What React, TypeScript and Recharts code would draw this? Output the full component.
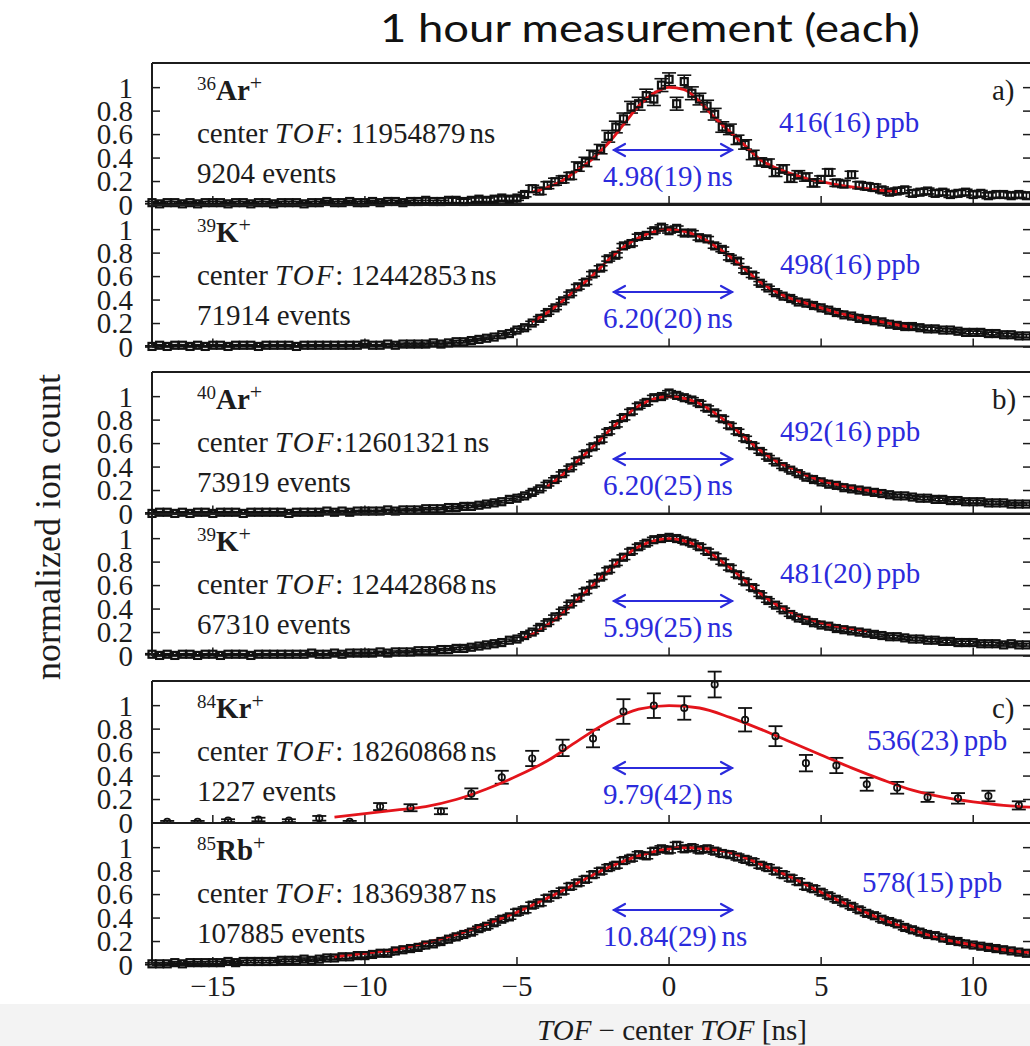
import { ComposedChart, Scatter, Line, XAxis, YAxis, ErrorBar, ReferenceLine, LabelList } from "recharts";

const INK = "#1c1c1c";
const RED = "#e3141b";
const BLUE = "#2b2bdc";
const SERIF = "'Liberation Serif', 'Times New Roman', serif";

const X_TICKS = [-15, -10, -5, 0, 5, 10];
const Y_TICKS = [0, 0.2, 0.4, 0.6, 0.8, 1];
const X_DOMAIN: [number, number] = [-17, 11.9];
const Y_DOMAIN: [number, number] = [0, 1.21];

// bin centres [ns] of the fine-binned spectra
const TOF_BINS = [
  -17, -16.75, -16.5, -16.25, -16, -15.75, -15.5, -15.25,
  -15, -14.75, -14.5, -14.25, -14, -13.75, -13.5, -13.25,
  -13, -12.75, -12.5, -12.25, -12, -11.75, -11.5, -11.25,
  -11, -10.75, -10.5, -10.25, -10, -9.75, -9.5, -9.25,
  -9, -8.75, -8.5, -8.25, -8, -7.75, -7.5, -7.25,
  -7, -6.75, -6.5, -6.25, -6, -5.75, -5.5, -5.25,
  -5, -4.75, -4.5, -4.25, -4, -3.75, -3.5, -3.25,
  -3, -2.75, -2.5, -2.25, -2, -1.75, -1.5, -1.25,
  -1, -0.75, -0.5, -0.25, 0, 0.25, 0.5, 0.75,
  1, 1.25, 1.5, 1.75, 2, 2.25, 2.5, 2.75,
  3, 3.25, 3.5, 3.75, 4, 4.25, 4.5, 4.75,
  5, 5.25, 5.5, 5.75, 6, 6.25, 6.5, 6.75,
  7, 7.25, 7.5, 7.75, 8, 8.25, 8.5, 8.75,
  9, 9.25, 9.5, 9.75, 10, 10.25, 10.5, 10.75,
  11, 11.25, 11.5, 11.75,
];

// 36Ar+
const AR36_COUNTS = [
  0.01, 0.0, 0.01, 0.01, 0.0, 0.01, 0.0, 0.01,
  0.01, 0.01, 0.0, 0.01, 0.01, 0.0, 0.01, 0.01,
  0.0, 0.01, 0.01, 0.01, 0.0, 0.01, 0.01, 0.02,
  0.01, 0.01, 0.02, 0.01, 0.01, 0.02, 0.01, 0.02,
  0.02, 0.01, 0.02, 0.02, 0.03, 0.02, 0.02, 0.03,
  0.03, 0.02, 0.03, 0.04, 0.03, 0.04, 0.05, 0.04,
  0.05, 0.08, 0.13, 0.11, 0.16, 0.19, 0.21, 0.24,
  0.32, 0.36, 0.42, 0.47, 0.58, 0.66, 0.73, 0.83,
  0.86, 0.93, 0.9, 1.02, 1.07, 0.86, 1.05, 0.95,
  0.9, 0.84, 0.77, 0.66, 0.64, 0.55, 0.51, 0.42,
  0.36, 0.35, 0.27, 0.3, 0.22, 0.25, 0.23, 0.18,
  0.21, 0.27, 0.18, 0.17, 0.25, 0.16, 0.15, 0.14,
  0.12, 0.1, 0.11, 0.12, 0.09, 0.1, 0.11, 0.09,
  0.1, 0.08, 0.09, 0.1, 0.08, 0.09, 0.07, 0.08,
  0.08, 0.07, 0.08, 0.07,
];
const AR36_ERR = [
  0.01, 0.01, 0.01, 0.01, 0.01, 0.01, 0.01, 0.01,
  0.01, 0.01, 0.01, 0.01, 0.01, 0.01, 0.01, 0.01,
  0.01, 0.01, 0.01, 0.01, 0.01, 0.01, 0.01, 0.01,
  0.01, 0.01, 0.01, 0.01, 0.01, 0.01, 0.01, 0.01,
  0.01, 0.01, 0.01, 0.01, 0.02, 0.01, 0.01, 0.02,
  0.02, 0.02, 0.02, 0.02, 0.02, 0.02, 0.02, 0.02,
  0.02, 0.02, 0.03, 0.03, 0.03, 0.03, 0.03, 0.03,
  0.04, 0.04, 0.04, 0.04, 0.05, 0.05, 0.05, 0.05,
  0.055, 0.055, 0.055, 0.055, 0.055, 0.055, 0.055, 0.055,
  0.05, 0.05, 0.05, 0.045, 0.045, 0.04, 0.04, 0.04,
  0.035, 0.035, 0.035, 0.035, 0.035, 0.035, 0.035, 0.035,
  0.03, 0.03, 0.03, 0.03, 0.03, 0.03, 0.03, 0.03,
  0.025, 0.025, 0.025, 0.025, 0.025, 0.025, 0.025, 0.025,
  0.025, 0.025, 0.025, 0.025, 0.025, 0.025, 0.025, 0.025,
  0.025, 0.025, 0.025, 0.025,
];
const AR36_FIT_NS = [-4.5, -4, -3.5, -3, -2.5, -2, -1.5, -1, -0.5, 0, 0.5, 1, 1.5, 2, 2.5, 3, 3.5, 4, 4.5, 5, 5.5, 6, 6.5, 7, 7.5];
const AR36_FIT = [0.1, 0.14, 0.2, 0.29, 0.39, 0.52, 0.68, 0.84, 0.95, 1.0, 0.98, 0.88, 0.74, 0.62, 0.5, 0.38, 0.31, 0.26, 0.22, 0.19, 0.165, 0.145, 0.13, 0.115, 0.105];

// 39K+ (first run)
const K39A_COUNTS = [
  0.0, 0.01, 0.0, 0.01, 0.01, 0.0, 0.01, 0.0,
  0.01, 0.01, 0.0, 0.01, 0.01, 0.01, 0.0, 0.01,
  0.01, 0.01, 0.01, 0.0, 0.01, 0.01, 0.01, 0.01,
  0.01, 0.01, 0.01, 0.01, 0.02, 0.01, 0.01, 0.02,
  0.01, 0.02, 0.02, 0.02, 0.02, 0.03, 0.02, 0.03,
  0.04, 0.04, 0.05, 0.06, 0.07, 0.08, 0.1, 0.11,
  0.14, 0.16, 0.2, 0.24, 0.29, 0.33, 0.39, 0.45,
  0.51, 0.55, 0.62, 0.67, 0.75, 0.78, 0.86, 0.88,
  0.94, 0.95, 0.99, 1.02, 0.99, 1.01, 0.97, 0.97,
  0.93, 0.92, 0.86, 0.83, 0.76, 0.73, 0.65, 0.61,
  0.54, 0.5, 0.46, 0.43, 0.41, 0.38, 0.37, 0.35,
  0.33, 0.31, 0.29, 0.27, 0.26, 0.24, 0.23, 0.22,
  0.21, 0.19, 0.18, 0.17, 0.17, 0.16, 0.15, 0.15,
  0.14, 0.14, 0.13, 0.12, 0.12, 0.12, 0.11, 0.11,
  0.1, 0.1, 0.09, 0.09,
];
const K39A_ERR = [
  0.005, 0.005, 0.005, 0.005, 0.005, 0.005, 0.005, 0.005,
  0.005, 0.005, 0.005, 0.005, 0.005, 0.005, 0.005, 0.005,
  0.005, 0.005, 0.005, 0.005, 0.005, 0.005, 0.005, 0.005,
  0.005, 0.005, 0.005, 0.005, 0.005, 0.005, 0.005, 0.005,
  0.008, 0.008, 0.008, 0.008, 0.008, 0.008, 0.008, 0.008,
  0.01, 0.01, 0.01, 0.01, 0.01, 0.01, 0.01, 0.01,
  0.015, 0.015, 0.015, 0.015, 0.015, 0.015, 0.015, 0.015,
  0.02, 0.02, 0.02, 0.02, 0.02, 0.02, 0.02, 0.02,
  0.02, 0.02, 0.02, 0.02, 0.02, 0.02, 0.02, 0.02,
  0.02, 0.02, 0.02, 0.02, 0.02, 0.02, 0.02, 0.02,
  0.015, 0.015, 0.015, 0.015, 0.015, 0.015, 0.015, 0.015,
  0.015, 0.015, 0.015, 0.015, 0.015, 0.015, 0.015, 0.015,
  0.015, 0.015, 0.015, 0.015, 0.015, 0.015, 0.015, 0.015,
  0.012, 0.012, 0.012, 0.012, 0.012, 0.012, 0.012, 0.012,
  0.012, 0.012, 0.012, 0.012,
];
const K39A_FIT_NS = [-4.5, -4, -3.5, -3, -2.5, -2, -1.5, -1, -0.5, 0, 0.5, 1, 1.5, 2, 2.5, 3, 3.5, 4, 4.5, 5, 5.5, 6, 6.5, 7, 7.5, 8];
const K39A_FIT = [0.21, 0.29, 0.39, 0.5, 0.61, 0.74, 0.85, 0.93, 0.98, 1.0, 0.985, 0.94, 0.86, 0.77, 0.66, 0.55, 0.47, 0.41, 0.37, 0.33, 0.29, 0.26, 0.23, 0.21, 0.185, 0.165];

// 40Ar+
const AR40_COUNTS = [
  0.0, 0.01, 0.01, 0.0, 0.01, 0.0, 0.01, 0.01,
  0.0, 0.01, 0.01, 0.01, 0.0, 0.01, 0.01, 0.01,
  0.01, 0.01, 0.0, 0.01, 0.01, 0.01, 0.01, 0.02,
  0.01, 0.02, 0.01, 0.02, 0.02, 0.02, 0.02, 0.03,
  0.02, 0.03, 0.03, 0.03, 0.04, 0.04, 0.04, 0.05,
  0.05, 0.06, 0.06, 0.07, 0.08, 0.09, 0.1, 0.12,
  0.13, 0.15, 0.18, 0.21, 0.25, 0.29, 0.34, 0.39,
  0.45, 0.51, 0.57, 0.63, 0.7, 0.76, 0.82, 0.87,
  0.92, 0.95, 0.99, 1.0, 1.03, 1.01, 0.99, 0.97,
  0.94, 0.9, 0.86, 0.81, 0.75, 0.7, 0.64, 0.58,
  0.53, 0.48, 0.44, 0.4, 0.37, 0.34, 0.31, 0.29,
  0.27, 0.25, 0.24, 0.22, 0.21, 0.2, 0.19, 0.18,
  0.17, 0.16, 0.15, 0.15, 0.14, 0.13, 0.13, 0.12,
  0.12, 0.11, 0.11, 0.1, 0.1, 0.1, 0.09, 0.09,
  0.09, 0.08, 0.08, 0.08,
];
const AR40_ERR = [
  0.005, 0.005, 0.005, 0.005, 0.005, 0.005, 0.005, 0.005,
  0.005, 0.005, 0.005, 0.005, 0.005, 0.005, 0.005, 0.005,
  0.005, 0.005, 0.005, 0.005, 0.005, 0.005, 0.005, 0.005,
  0.006, 0.006, 0.006, 0.006, 0.006, 0.006, 0.006, 0.006,
  0.008, 0.008, 0.008, 0.008, 0.008, 0.008, 0.008, 0.008,
  0.01, 0.01, 0.01, 0.01, 0.01, 0.01, 0.01, 0.01,
  0.015, 0.015, 0.015, 0.015, 0.015, 0.015, 0.015, 0.015,
  0.02, 0.02, 0.02, 0.02, 0.02, 0.02, 0.02, 0.02,
  0.02, 0.02, 0.02, 0.02, 0.02, 0.02, 0.02, 0.02,
  0.02, 0.02, 0.02, 0.02, 0.02, 0.02, 0.02, 0.02,
  0.015, 0.015, 0.015, 0.015, 0.015, 0.015, 0.015, 0.015,
  0.015, 0.015, 0.015, 0.015, 0.015, 0.015, 0.015, 0.015,
  0.012, 0.012, 0.012, 0.012, 0.012, 0.012, 0.012, 0.012,
  0.012, 0.012, 0.012, 0.012, 0.012, 0.012, 0.012, 0.012,
  0.01, 0.01, 0.01, 0.01,
];
const AR40_FIT_NS = [-4, -3.5, -3, -2.5, -2, -1.5, -1, -0.5, 0, 0.5, 1, 1.5, 2, 2.5, 3, 3.5, 4, 4.5, 5, 5.5, 6, 6.5, 7];
const AR40_FIT = [0.23, 0.33, 0.45, 0.57, 0.7, 0.82, 0.92, 0.98, 1.0, 0.985, 0.94, 0.86, 0.76, 0.65, 0.54, 0.45, 0.39, 0.33, 0.28, 0.25, 0.22, 0.2, 0.18];

// 39K+ (second run)
const K39B_COUNTS = [
  0.01, 0.0, 0.01, 0.0, 0.01, 0.01, 0.0, 0.01,
  0.01, 0.0, 0.01, 0.01, 0.01, 0.0, 0.01, 0.01,
  0.01, 0.01, 0.01, 0.01, 0.01, 0.02, 0.01, 0.01,
  0.02, 0.01, 0.02, 0.02, 0.02, 0.02, 0.03, 0.02,
  0.03, 0.03, 0.03, 0.04, 0.04, 0.04, 0.05, 0.05,
  0.06, 0.06, 0.07, 0.08, 0.09, 0.1, 0.11, 0.13,
  0.14, 0.17, 0.2, 0.24, 0.28, 0.33, 0.38, 0.44,
  0.49, 0.55, 0.61, 0.67, 0.73, 0.79, 0.84, 0.89,
  0.93, 0.96, 0.99, 1.0, 1.01, 1.0, 0.98, 0.96,
  0.93, 0.89, 0.85, 0.8, 0.75, 0.69, 0.63, 0.58,
  0.52, 0.47, 0.43, 0.39, 0.35, 0.32, 0.3, 0.28,
  0.26, 0.25, 0.23, 0.22, 0.21, 0.2, 0.19, 0.18,
  0.17, 0.16, 0.16, 0.15, 0.14, 0.14, 0.13, 0.13,
  0.12, 0.12, 0.11, 0.11, 0.11, 0.1, 0.1, 0.1,
  0.09, 0.1, 0.09, 0.09,
];
const K39B_ERR = [
  0.005, 0.005, 0.005, 0.005, 0.005, 0.005, 0.005, 0.005,
  0.005, 0.005, 0.005, 0.005, 0.005, 0.005, 0.005, 0.005,
  0.005, 0.005, 0.005, 0.005, 0.005, 0.005, 0.005, 0.005,
  0.006, 0.006, 0.006, 0.006, 0.006, 0.006, 0.006, 0.006,
  0.008, 0.008, 0.008, 0.008, 0.008, 0.008, 0.008, 0.008,
  0.01, 0.01, 0.01, 0.01, 0.01, 0.01, 0.01, 0.01,
  0.015, 0.015, 0.015, 0.015, 0.015, 0.015, 0.015, 0.015,
  0.02, 0.02, 0.02, 0.02, 0.02, 0.02, 0.02, 0.02,
  0.02, 0.02, 0.02, 0.02, 0.02, 0.02, 0.02, 0.02,
  0.02, 0.02, 0.02, 0.02, 0.02, 0.02, 0.02, 0.02,
  0.015, 0.015, 0.015, 0.015, 0.015, 0.015, 0.015, 0.015,
  0.015, 0.015, 0.015, 0.015, 0.015, 0.015, 0.015, 0.015,
  0.012, 0.012, 0.012, 0.012, 0.012, 0.012, 0.012, 0.012,
  0.012, 0.012, 0.012, 0.012, 0.012, 0.012, 0.012, 0.012,
  0.01, 0.01, 0.01, 0.01,
];
const K39B_FIT_NS = [-4.75, -4.5, -4, -3.5, -3, -2.5, -2, -1.5, -1, -0.5, 0, 0.5, 1, 1.5, 2, 2.5, 3, 3.5, 4, 4.5, 5, 5.5, 6, 6.5];
const K39B_FIT = [0.15, 0.18, 0.26, 0.36, 0.48, 0.6, 0.72, 0.84, 0.93, 0.98, 1.0, 0.98, 0.93, 0.85, 0.75, 0.64, 0.53, 0.44, 0.37, 0.32, 0.28, 0.25, 0.23, 0.21];

// 84Kr+ (coarse 1 ns bins)
const KR84_BINS = [-16.5, -15.5, -14.5, -13.5, -12.5, -11.5, -10.5, -9.5, -8.5, -7.5, -6.5, -5.5, -4.5, -3.5, -2.5, -1.5, -0.5, 0.5, 1.5, 2.5, 3.5, 4.5, 5.5, 6.5, 7.5, 8.5, 9.5, 10.5, 11.5];
const KR84_COUNTS = [0.01, 0.01, 0.02, 0.03, 0.02, 0.04, 0.01, 0.14, 0.13, 0.1, 0.25, 0.39, 0.55, 0.64, 0.72, 0.95, 1.0, 0.98, 1.18, 0.88, 0.74, 0.51, 0.49, 0.33, 0.3, 0.22, 0.21, 0.23, 0.15];
const KR84_ERR = [0.008, 0.008, 0.012, 0.015, 0.012, 0.02, 0.008, 0.03, 0.03, 0.025, 0.045, 0.055, 0.065, 0.07, 0.075, 0.105, 0.105, 0.1, 0.11, 0.1, 0.085, 0.07, 0.065, 0.055, 0.05, 0.04, 0.045, 0.045, 0.035];
const KR84_FIT_NS = [-11, -10, -9, -8, -7, -6, -5, -4, -3, -2, -1, 0, 1, 2, 3, 4, 5, 6, 7, 8, 9, 10, 11, 11.9];
const KR84_FIT = [0.05, 0.08, 0.11, 0.14, 0.2, 0.29, 0.4, 0.53, 0.7, 0.86, 0.97, 1.0, 0.98, 0.9, 0.8, 0.69, 0.58, 0.47, 0.37, 0.28, 0.22, 0.18, 0.15, 0.135];

// 85Rb+
const RB85_COUNTS = [
  0.01, 0.01, 0.01, 0.02, 0.01, 0.02, 0.02, 0.02,
  0.02, 0.02, 0.03, 0.02, 0.03, 0.03, 0.03, 0.03,
  0.03, 0.04, 0.04, 0.04, 0.05, 0.04, 0.05, 0.06,
  0.06, 0.07, 0.07, 0.08, 0.08, 0.09, 0.1, 0.1,
  0.12, 0.13, 0.14, 0.15, 0.17, 0.18, 0.2, 0.22,
  0.24, 0.26, 0.28, 0.31, 0.33, 0.36, 0.39, 0.41,
  0.45, 0.47, 0.51, 0.53, 0.57, 0.6, 0.63, 0.67,
  0.7, 0.73, 0.77, 0.8, 0.83, 0.85, 0.89, 0.91,
  0.94, 0.93, 0.97, 0.99, 0.98, 1.02, 0.99, 1.0,
  0.98, 0.99, 0.97, 0.95, 0.94, 0.92, 0.9, 0.88,
  0.85, 0.83, 0.8, 0.77, 0.74, 0.71, 0.67, 0.65,
  0.62, 0.59, 0.56, 0.53, 0.5, 0.47, 0.44, 0.42,
  0.39, 0.37, 0.35, 0.32, 0.3, 0.28, 0.26, 0.25,
  0.23, 0.21, 0.2, 0.18, 0.17, 0.16, 0.15, 0.14,
  0.13, 0.12, 0.11, 0.1,
];
const RB85_ERR = [
  0.008, 0.008, 0.008, 0.008, 0.008, 0.008, 0.008, 0.008,
  0.01, 0.01, 0.01, 0.01, 0.01, 0.01, 0.01, 0.01,
  0.01, 0.01, 0.01, 0.01, 0.01, 0.01, 0.01, 0.01,
  0.015, 0.015, 0.015, 0.015, 0.015, 0.015, 0.015, 0.015,
  0.015, 0.015, 0.015, 0.015, 0.015, 0.015, 0.015, 0.015,
  0.02, 0.02, 0.02, 0.02, 0.02, 0.02, 0.02, 0.02,
  0.025, 0.025, 0.025, 0.025, 0.025, 0.025, 0.025, 0.025,
  0.025, 0.025, 0.025, 0.025, 0.025, 0.025, 0.025, 0.025,
  0.025, 0.025, 0.025, 0.025, 0.025, 0.025, 0.025, 0.025,
  0.025, 0.025, 0.025, 0.025, 0.025, 0.025, 0.025, 0.025,
  0.025, 0.025, 0.025, 0.025, 0.025, 0.025, 0.025, 0.025,
  0.02, 0.02, 0.02, 0.02, 0.02, 0.02, 0.02, 0.02,
  0.02, 0.02, 0.02, 0.02, 0.02, 0.02, 0.02, 0.02,
  0.015, 0.015, 0.015, 0.015, 0.015, 0.015, 0.015, 0.015,
  0.015, 0.015, 0.015, 0.015,
];
const RB85_FIT_NS = [-11, -10, -9, -8, -7, -6, -5, -4, -3, -2, -1, 0, 0.5, 1, 2, 3, 4, 5, 6, 7, 8, 9, 10, 11, 11.9];
const RB85_FIT = [0.07, 0.1, 0.13, 0.19, 0.26, 0.35, 0.45, 0.57, 0.7, 0.83, 0.93, 0.99, 1.0, 0.995, 0.96, 0.86, 0.75, 0.62, 0.5, 0.39, 0.3, 0.22, 0.17, 0.13, 0.105];

// panel annotations, top to bottom
const MASS_NUMBERS = ["36", "39", "40", "39", "84", "85"];
const ELEMENTS = ["Ar", "K", "Ar", "K", "Kr", "Rb"];
const CENTER_TOF = [" 11954879", " 12442853", "12601321", " 12442868", " 18260868", " 18369387"];
const EVENTS = ["9204", "71914", "73919", "67310", "1227", "107885"];
const PPB = ["416(16)", "498(16)", "492(16)", "481(20)", "536(23)", "578(15)"];
const FWHM = ["4.98(19)", "6.20(20)", "6.20(25)", "5.99(25)", "9.79(42)", "10.84(29)"];
const GROUP_LETTERS = ["a)", "", "b)", "", "c)", ""];

type Pt = { t: number; n: number; e?: number };

const pts = (bins: number[], counts: number[], errs?: number[]): Pt[] =>
  counts.map((n, i) => ({ t: bins[i], n, e: errs ? errs[i] : undefined }));

const SPECTRA = [
  { points: pts(TOF_BINS, AR36_COUNTS, AR36_ERR), fit: pts(AR36_FIT_NS, AR36_FIT), coarse: false },
  { points: pts(TOF_BINS, K39A_COUNTS, K39A_ERR), fit: pts(K39A_FIT_NS, K39A_FIT), coarse: false },
  { points: pts(TOF_BINS, AR40_COUNTS, AR40_ERR), fit: pts(AR40_FIT_NS, AR40_FIT), coarse: false },
  { points: pts(TOF_BINS, K39B_COUNTS, K39B_ERR), fit: pts(K39B_FIT_NS, K39B_FIT), coarse: false },
  { points: pts(KR84_BINS, KR84_COUNTS, KR84_ERR), fit: pts(KR84_FIT_NS, KR84_FIT), coarse: true },
  { points: pts(TOF_BINS, RB85_COUNTS, RB85_ERR), fit: pts(RB85_FIT_NS, RB85_FIT), coarse: false },
];

// anchors on the zero line for the TOF scale numbers under the bottom panel
const X_TICK_ANCHORS = X_TICKS.map((t) => ({ t, n: 0 }));

// layout
const PLOT_LEFT = 152;
const CHART_W = 1031;
const PANEL_H = 142;
const PAD = 20;
const TICK_LEN = 8;
const PANEL_TOPS = [63, 205, 372, 514, 681, 823];
const PPB_X = [779, 780, 780, 780, 867, 862];

// inward tick length on the bottom edge, in data units of the y scale
const BOTTOM_TICK = (TICK_LEN * (Y_DOMAIN[1] - Y_DOMAIN[0])) / PANEL_H;

const Blank = () => <g />;

function YLabel(props: any) {
  const { x, y, payload } = props;
  return (
    <text x={x} y={y} dy="0.34em" textAnchor="end" fontFamily={SERIF} fontSize={29} fill={INK}>
      {String(payload.value)}
    </text>
  );
}

function XTickLabel(props: any) {
  const { x, y, width, height, value } = props;
  const cx = Number(x) + (Number(width) || 0) / 2;
  const cy = Number(y) + (Number(height) || 0) / 2;
  const v = Number(value);
  return (
    <text x={cx} y={cy} dy={31} textAnchor="middle" fill={INK}
      style={{ fontFamily: SERIF, fontSize: 29 }}>
      {v < 0 ? `\u2212${Math.abs(v)}` : String(v)}
    </text>
  );
}

function SquareMark(props: any) {
  const { cx, cy } = props;
  if (cx == null || cy == null) return <g />;
  return <rect x={cx - 3.5} y={cy - 3.5} width={7} height={7} fill="none" stroke="#111" strokeWidth={2.2} />;
}

function RingMark(props: any) {
  const { cx, cy } = props;
  if (cx == null || cy == null) return <g />;
  return <circle cx={cx} cy={cy} r={3.2} fill="none" stroke="#111" strokeWidth={1.7} />;
}

const frameLine = { stroke: INK, strokeWidth: 2 };
const tickLine = { stroke: INK, strokeWidth: 1.5 };

function Panel({ index }: { index: number }) {
  const { points, fit, coarse } = SPECTRA[index];
  const last = index === SPECTRA.length - 1;
  const extra = last ? 44 : 0;
  return (
    <div style={{ position: "absolute", left: 0, top: PANEL_TOPS[index] - PAD }}>
      <ComposedChart
        width={CHART_W}
        height={PANEL_H + 2 * PAD + extra}
        margin={{ top: PAD, right: 0, bottom: PAD + extra, left: 0 }}
      >
        <XAxis xAxisId="v" dataKey="t" type="number" domain={X_DOMAIN} hide />
        <YAxis yAxisId="v" type="number" domain={Y_DOMAIN} allowDataOverflow={coarse} hide />

        <XAxis xAxisId="top" orientation="top" mirror height={1} type="number" domain={X_DOMAIN}
          allowDataOverflow ticks={X_TICKS} interval={0} tickSize={TICK_LEN} tick={Blank}
          axisLine={frameLine} tickLine={tickLine} />

        <YAxis yAxisId="lab" orientation="left" width={PLOT_LEFT} type="number" domain={Y_DOMAIN}
          allowDataOverflow ticks={Y_TICKS} interval={0} tickSize={6} tickMargin={13}
          tick={YLabel} axisLine={false} tickLine={false} />
        <YAxis yAxisId="lt" orientation="left" mirror width={1} type="number" domain={Y_DOMAIN}
          allowDataOverflow ticks={Y_TICKS} interval={0} tickSize={TICK_LEN} tick={Blank}
          axisLine={frameLine} tickLine={tickLine} />
        <YAxis yAxisId="rt" orientation="right" mirror width={1} type="number" domain={Y_DOMAIN}
          allowDataOverflow ticks={Y_TICKS} interval={0} tickSize={TICK_LEN} tick={Blank}
          axisLine={frameLine} tickLine={tickLine} />

        {/* bottom edge of the frame with its inward ticks */}
        <ReferenceLine xAxisId="v" yAxisId="v" y={0} stroke={INK} strokeWidth={2} />
        {X_TICKS.map((t) => (
          <ReferenceLine key={t} xAxisId="v" yAxisId="v" stroke={INK} strokeWidth={1.5}
            segment={[{ x: t, y: 0 }, { x: t, y: BOTTOM_TICK }]} />
        ))}

        <Scatter xAxisId="v" yAxisId="v" data={points} dataKey="n"
          shape={coarse ? RingMark : SquareMark} isAnimationActive={false}>
          <ErrorBar dataKey="e" direction="y" width={7} stroke="#111"
            strokeWidth={coarse ? 1.8 : 1.6} isAnimationActive={false} />
        </Scatter>
        <Line xAxisId="v" yAxisId="v" data={fit} dataKey="n" type="monotone" stroke={RED}
          strokeWidth={2.8} dot={false} activeDot={false} isAnimationActive={false} />

        {last && (
          <Scatter xAxisId="v" yAxisId="v" data={X_TICK_ANCHORS} dataKey="n" shape={Blank}
            isAnimationActive={false}>
            <LabelList dataKey="t" content={XTickLabel} />
          </Scatter>
        )}
      </ComposedChart>
    </div>
  );
}

function Annotations({ index }: { index: number }) {
  const T = PANEL_TOPS[index];
  const ay = T + 87;
  return (
    <g fontFamily={SERIF} fontSize={29} fill={INK}>
      <text x={197} y={T + 37}>
        <tspan fontSize={19} dy={-10}>{MASS_NUMBERS[index]}</tspan>
        <tspan fontWeight="bold" dy={10}>{ELEMENTS[index]}</tspan>
        <tspan fontSize={22} dy={-10}>+</tspan>
      </text>
      <text x={197} y={T + 80}>
        center <tspan fontStyle="italic" letterSpacing={2}>TOF</tspan>:{CENTER_TOF[index]}
        <tspan dx={4}>ns</tspan>
      </text>
      <text x={197} y={T + 120}>{EVENTS[index]} events</text>

      <text x={PPB_X[index]} y={T + 69} fill={BLUE}>
        {PPB[index]}<tspan dx={5}>ppb</tspan>
      </text>
      <g stroke={BLUE} strokeWidth={2.2} fill="none" strokeLinecap="round">
        <line x1={614} y1={ay} x2={732} y2={ay} />
        <polyline points={`${625},${ay - 6} ${614},${ay} ${625},${ay + 6}`} />
        <polyline points={`${721},${ay - 6} ${732},${ay} ${721},${ay + 6}`} />
      </g>
      <text x={603} y={T + 123} fill={BLUE}>
        {FWHM[index]}<tspan dx={5}>ns</tspan>
      </text>
      {GROUP_LETTERS[index] && (
        <text x={992} y={T + 37}>{GROUP_LETTERS[index]}</text>
      )}
    </g>
  );
}

export default function App() {
  return (
    <div
      style={{
        position: "fixed",
        left: 0,
        top: 0,
        width: 1030,
        height: 1046,
        overflow: "hidden",
        background: "#fff",
      }}
    >
      <svg width={1030} height={1046} style={{ position: "absolute", left: 0, top: 0 }}>
        <rect x={0} y={1004} width={1030} height={42} fill="#f3f3f3" />
      </svg>
      {SPECTRA.map((_, i) => (
        <Panel key={i} index={i} />
      ))}
      <svg
        width={1030}
        height={1046}
        style={{ position: "absolute", left: 0, top: 0, pointerEvents: "none" }}
      >
        <text x={650} y={42} textAnchor="middle" fontFamily="Lato, 'Noto Sans', sans-serif"
          fontSize={38} fill="#111" textLength={540} lengthAdjust="spacingAndGlyphs">
          1 hour measurement (each)
        </text>
        {SPECTRA.map((_, i) => (
          <Annotations key={i} index={i} />
        ))}
        <text transform="translate(60, 527) rotate(-90)" textAnchor="middle" fontFamily={SERIF}
          fontSize={36} fill={INK}>
          normalized ion count
        </text>
        <text x={672} y={1040} textAnchor="middle" fontFamily={SERIF} fontSize={29} fill={INK}>
          <tspan fontStyle="italic">TOF</tspan> {"\u2212"} center <tspan fontStyle="italic">TOF</tspan> [ns]
        </text>
      </svg>
    </div>
  );
}
